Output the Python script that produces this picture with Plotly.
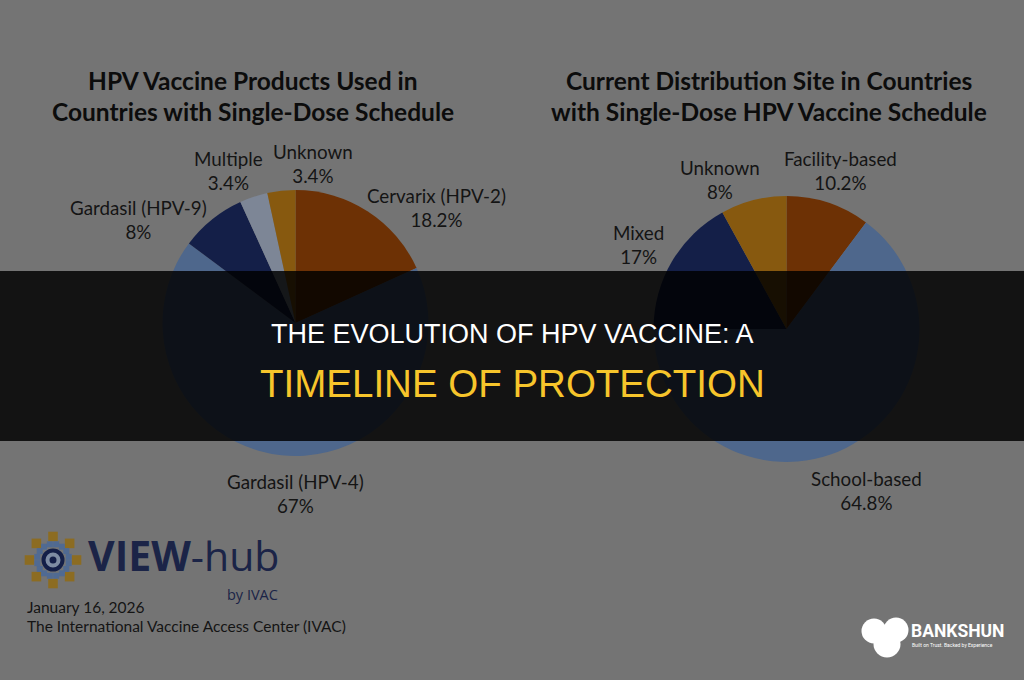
import plotly.graph_objects as go
import math

# ---------------- data ----------------
left_title = ["HPV Vaccine Products Used in", "Countries with Single-Dose Schedule"]
left_labels = ["Cervarix (HPV-2)", "Gardasil (HPV-4)", "Gardasil (HPV-9)", "Multiple", "Unknown"]
left_values = [18.2, 67, 8, 3.4, 3.4]

right_title = ["Current Distribution Site in Countries", "with Single-Dose HPV Vaccine Schedule"]
right_labels = ["Facility-based", "School-based", "Mixed", "Unknown"]
right_values = [10.2, 64.8, 17, 8]

headline_1 = "THE EVOLUTION OF HPV VACCINE: A"
headline_2 = "TIMELINE OF PROTECTION"
date_text = "January 16, 2026"
source_text = "The International Vaccine Access Center (IVAC)"

# ---------------- style ----------------
W, H = 1024, 680
BG = "#747474"
ORANGE, LBLUE, NAVY, GREY, GOLD = "#6d3105", "#4e678c", "#141f48", "#7d8696", "#87590f"
left_colors = [ORANGE, LBLUE, NAVY, GREY, GOLD]
right_colors = [ORANGE, LBLUE, NAVY, GOLD]
TXT = "#141414"
LFONT = "Lato"

# label anchor positions (pixels)
left_label_pos = [(436, 207), (295, 493), (138, 219), (228, 170), (313, 163)]
right_label_pos = [(840, 170), (866, 490), (638, 244), (720, 179)]


def pdom(x0, x1, ytop, ybot):
    return dict(x=[x0 / W, x1 / W], y=[1 - ybot / H, 1 - ytop / H])


fig = go.Figure()

fig.add_trace(go.Pie(
    labels=left_labels, values=left_values, sort=False, direction="clockwise",
    rotation=0, marker=dict(colors=left_colors, line=dict(width=0)),
    textinfo="none", hoverinfo="label+percent", showlegend=False,
    domain=pdom(162.5, 428.5, 190, 456),
))
fig.add_trace(go.Pie(
    labels=right_labels, values=right_values, sort=False, direction="clockwise",
    rotation=0, marker=dict(colors=right_colors, line=dict(width=0)),
    textinfo="none", hoverinfo="label+percent", showlegend=False,
    domain=pdom(653.5, 919.5, 196, 462),
))

ann = []


def text(x, y, s, size, color=TXT, family=LFONT, xanchor="center", yanchor="middle"):
    ann.append(dict(x=x, y=y, xref="x", yref="y", text=s, showarrow=False,
                    font=dict(size=size, color=color, family=family),
                    xanchor=xanchor, yanchor=yanchor))


# titles
TT = "#0c0c0c"
text(253, 80, f"<b>{left_title[0]}</b>", 24.5, color=TT)
text(253, 111, f"<b>{left_title[1]}</b>", 24.5, color=TT)
text(769, 80, f"<b>{right_title[0]}</b>", 24.5, color=TT)
text(769, 111, f"<b>{right_title[1]}</b>", 24.5, color=TT)


def fmt(v):
    return f"{v:g}%"


for lab, v, (x, y) in zip(left_labels, left_values, left_label_pos):
    text(x, y, f"{lab}<br>{fmt(v)}", 18.8)
for lab, v, (x, y) in zip(right_labels, right_values, right_label_pos):
    text(x, y, f"{lab}<br>{fmt(v)}", 18.8)

# headline
text(512, 334, headline_1, 27, color="#ffffff", family="Liberation Sans")
text(512, 383, headline_2, 38.5, color="#f7c52b", family="Liberation Sans")

# VIEW-hub logo texts
text(86, 555, "<b>VIEW</b>-hub", 41, color="#1b2447", family="Open Sans", xanchor="left")
text(280, 594, "by IVAC", 14.5, color="#1b2447", family="Open Sans", xanchor="right")
text(25, 607, date_text, 15.5, xanchor="left")
text(25, 626, source_text, 15.5, xanchor="left")

# BANKSHUN logo texts
text(909, 631, "<b>BANKSHUN</b>", 17.5, color="#ffffff", family="Roboto", xanchor="left")
text(910, 645, "Built on Trust. Backed by Experience", 5, color="#ffffff", family="Roboto", xanchor="left")

shapes = []
# dark banner
shapes.append(dict(type="rect", xref="x", yref="y", x0=0, x1=W, y0=271, y1=441,
                   fillcolor="rgba(0,0,0,0.83)", line=dict(width=0), layer="above"))


def circ(cx, cy, r, color, lw=0, lc=None):
    shapes.append(dict(type="circle", xref="x", yref="y", x0=cx - r, x1=cx + r,
                       y0=cy - r, y1=cy + r, fillcolor=color,
                       line=dict(width=lw, color=lc or color), layer="above"))


def sq(cx, cy, s, color):
    shapes.append(dict(type="rect", xref="x", yref="y", x0=cx - s, x1=cx + s,
                       y0=cy - s, y1=cy + s, fillcolor=color,
                       line=dict(width=0), layer="above"))


# gear icon
gx, gy = 53, 560
for k in range(8):
    a = math.radians(k * 45)
    sq(gx + 23.5 * math.sin(a), gy - 23.5 * math.cos(a), 4.8, "#8c6c22")
for k in range(16):
    a = math.radians(k * 22.5 + 11.25)
    sq(gx + 16 * math.sin(a), gy - 16 * math.cos(a), 3.0, "#506a92")
circ(gx, gy, 9.5, "#7e8ca3", lw=4, lc="#141f48")
circ(gx, gy, 3.5, "#141f48")

# BANKSHUN blob
circ(874, 631, 12.5, "#ffffff")
circ(896, 630, 12.5, "#ffffff")
circ(887, 644, 13.5, "#ffffff")

fig.update_layout(
    width=W, height=H, margin=dict(l=0, r=0, t=0, b=0),
    paper_bgcolor=BG, plot_bgcolor=BG,
    xaxis=dict(range=[0, W], visible=False, fixedrange=True, domain=[0, 1]),
    yaxis=dict(range=[H, 0], visible=False, fixedrange=True, domain=[0, 1]),
    annotations=ann, shapes=shapes, showlegend=False,
)

fig.write_html("out.html")
